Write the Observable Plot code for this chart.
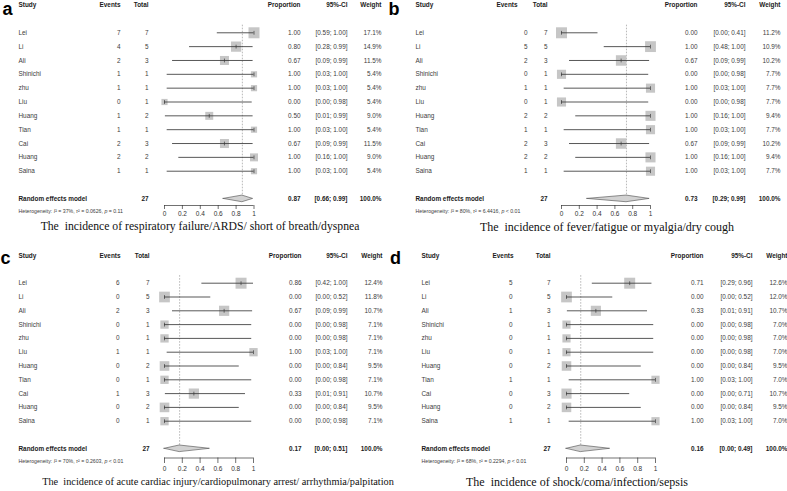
<!DOCTYPE html>
<html><head><meta charset="utf-8">
<script src="https://cdn.jsdelivr.net/npm/d3@7"></script>
<script src="https://cdn.jsdelivr.net/npm/@observablehq/plot@0.6"></script>
<style>
body{margin:0;background:#fff}
#wrap{position:relative;width:787px;height:491px;overflow:hidden;background:#fff}
.panel{position:absolute}
.panel svg{overflow:visible;display:block}
.cap{position:absolute;font-family:"Liberation Serif","Times New Roman",serif;white-space:pre;color:#111;transform:translateX(-50%)}
</style></head><body><div id="wrap"></div>
<script>
// ---------- data ----------
const studies = ["Lei","Li","Ali","Shinichi","zhu","Liu","Huang","Tian","Cai","Huang","Saina"];
const totals  = [7,5,3,1,1,1,2,1,3,2,1];

const eventsA = [7,4,2,1,1,0,1,1,2,2,1];
const propA   = [1.00,0.80,0.67,1.00,1.00,0.00,0.50,1.00,0.67,1.00,1.00];
const lowerA  = [0.59,0.28,0.09,0.03,0.03,0.00,0.01,0.03,0.09,0.16,0.03];
const upperA  = [1.00,0.99,0.99,1.00,1.00,0.98,0.99,1.00,0.99,1.00,1.00];
const weightA = [17.1,14.9,11.5,5.4,5.4,5.4,9.0,5.4,11.5,9.0,5.4];

const eventsB = [0,5,2,0,1,0,2,1,2,2,1];
const propB   = [0.00,1.00,0.67,0.00,1.00,0.00,1.00,1.00,0.67,1.00,1.00];
const lowerB  = [0.00,0.48,0.09,0.00,0.03,0.00,0.16,0.03,0.09,0.16,0.03];
const upperB  = [0.41,1.00,0.99,0.98,1.00,0.98,1.00,1.00,0.99,1.00,1.00];
const weightB = [11.2,10.9,10.2,7.7,7.7,7.7,9.4,7.7,10.2,9.4,7.7];

const eventsC = [6,0,2,0,0,1,0,0,1,0,0];
const propC   = [0.86,0.00,0.67,0.00,0.00,1.00,0.00,0.00,0.33,0.00,0.00];
const lowerC  = [0.42,0.00,0.09,0.00,0.00,0.03,0.00,0.00,0.01,0.00,0.00];
const upperC  = [1.00,0.52,0.99,0.98,0.98,1.00,0.84,0.98,0.91,0.84,0.98];
const weightC = [12.4,11.8,10.7,7.1,7.1,7.1,9.5,7.1,10.7,9.5,7.1];

const eventsD = [5,0,1,0,0,0,0,1,0,0,1];
const propD   = [0.71,0.00,0.33,0.00,0.00,0.00,0.00,1.00,0.00,0.00,1.00];
const lowerD  = [0.29,0.00,0.01,0.00,0.00,0.00,0.00,0.03,0.00,0.00,0.03];
const upperD  = [0.96,0.52,0.91,0.98,0.98,0.98,0.84,1.00,0.71,0.84,1.00];
const weightD = [12.6,12.0,10.7,7.0,7.0,7.0,9.5,7.0,10.7,9.5,7.0];

const summaryEst = [0.87,0.73,0.17,0.16];
const summaryLow = [0.66,0.29,0.00,0.00];
const summaryUp  = [0.99,0.99,0.51,0.49];
const summaryN   = [27,27,27,27];
const hetI2   = ["37%","80%","70%","68%"];
const hetTau2 = ["0.0626","6.4416","0.2603","0.2294"];
const hetP    = ["= 0.11","< 0.01","< 0.01","< 0.01"];

const headers = ["Study","Events","Total","Proportion","95%-CI","Weight"];
const reLabel = "Random effects model";
const axisTicks = [0,0.2,0.4,0.6,0.8,1];
const panelLetters = ["a","b","c","d"];
const captions = [
  "The  incidence of respiratory failure/ARDS/ short of breath/dyspnea",
  "The  incidence of fever/fatigue or myalgia/dry cough",
  "The  incidence of acute cardiac injury/cardiopulmonary arrest/ arrhythmia/palpitation",
  "The  incidence of shock/coma/infection/sepsis"
];

const eventsAll = [eventsA,eventsB,eventsC,eventsD];
const propAll   = [propA,propB,propC,propD];
const lowerAll  = [lowerA,lowerB,lowerC,lowerD];
const upperAll  = [upperA,upperB,upperC,upperD];
const weightAll = [weightA,weightB,weightC,weightD];

// ---------- layout (pixels, styles only) ----------
const layouts = [
 {left:0,   top:0,   width:393, height:222, letterX:7,   letterDy:3.8, study:18, evH:120, ev:120, tot:148, f0:164, f1:253.5, prop:300, ci:347, wt:381, yTop:4.6, yRE:198.4, axisY:205,   tickSize:4,   tickPad:2,   capX:200, capBase:231, capSize:11.7},
 {left:386, top:0,   width:401, height:222, letterX:7.5, letterDy:3.8, study:29, evH:131, ev:141, tot:161, f0:175, f1:264,   prop:311, ci:359, wt:394, yTop:4.6, yRE:198.4, axisY:205,   tickSize:4,   tickPad:2,   capX:221, capBase:231, capSize:12},
 {left:0,   top:250, width:393, height:232, letterX:5,   letterDy:2.5, study:18, evH:120, ev:119, tot:149, f0:164, f1:253,   prop:301, ci:347, wt:382, yTop:5.1, yRE:198.3, axisY:207.5, tickSize:5.5, tickPad:2.5, capX:218, capBase:236, capSize:10.3},
 {left:386, top:250, width:401, height:232, letterX:9,   letterDy:2.5, study:35, evH:127, ev:126, tot:164, f0:180, f1:269,   prop:317, ci:366, wt:401, yTop:5.1, yRE:198.3, axisY:207.5, tickSize:5.5, tickPad:2.5, capX:191, capBase:236, capSize:12}
];

const vline = {draw(ctx, size){ const r = Math.sqrt(size/Math.PI); ctx.moveTo(0,-r); ctx.lineTo(0,r); }};
const f2 = d3.format(".2f");
const f1 = d3.format(".1f");
const HEADER_ROW = -2;

function buildPanel(k){
  const L = layouts[k];
  const n = studies.length;
  const reRow = n + 1;
  const rows = studies.map((s,i)=>({
    i, study:s, events:eventsAll[k][i], total:totals[i],
    prop:propAll[k][i], lo:lowerAll[k][i], hi:upperAll[k][i], w:weightAll[k][i]
  }));
  const re = [{i:reRow, est:summaryEst[k], lo:summaryLow[k], hi:summaryUp[k], n:summaryN[k],
    het:`Heterogeneity: I² = ${hetI2[k]}, τ² = ${hetTau2[k]}, p ${hetP[k]}`}];
  const hh = 0.24;
  const diamond = [
    {x:summaryLow[k], y1:reRow, y2:reRow},
    {x:summaryEst[k], y1:reRow-hh, y2:reRow+hh},
    {x:summaryUp[k],  y1:reRow, y2:reRow}
  ];
  const axisRow = HEADER_ROW + (L.axisY - L.yTop) / (L.yRE - L.yTop) * (reRow - HEADER_ROW);
  const hdr = [{i:HEADER_ROW}];
  const cl = x => ({frameAnchor:"left",  dx:x - L.f0});
  const cr = x => ({frameAnchor:"right", dx:x - L.f1});
  const txt = {fontSize:6.4, fill:"#3c3c3c"};
  const bold = {fontSize:6.4, fill:"#1a1a1a", fontWeight:"bold"};

  const plot = Plot.plot({
    width:L.width, height:L.height,
    marginLeft:L.f0, marginRight:L.width - L.f1,
    marginTop:0, marginBottom:L.height - L.axisY,
    style:{fontFamily:"'Liberation Sans', Arial, sans-serif", background:"transparent", overflow:"visible"},
    x:{domain:[0,1]},
    y:{domain:[HEADER_ROW, reRow], range:[L.yTop, L.yRE], axis:null},
    r:{type:"sqrt", domain:[0, d3.max(weightAll[k])], range:[0, 6.2]},
    marks:[
      Plot.ruleX(re, {x:"est", y1:()=> -0.55, y2:"i", stroke:"#8a8a8a", strokeWidth:0.6, strokeDasharray:"1.6,1.4"}),
      Plot.dot(rows, {x:"prop", y:"i", r:"w", symbol:"square", fill:"#c6c6c6", stroke:null}),
      Plot.ruleY(rows, {y:"i", x1:"lo", x2:"hi", stroke:"#3a3a3a", strokeWidth:0.85}),
      Plot.dot(rows, {x:"prop", y:"i", r:1.9, symbol:vline, fill:"none", stroke:"#3a3a3a", strokeWidth:0.7}),
      Plot.areaY(diamond, {x:"x", y1:"y1", y2:"y2", fill:"#d2d2d2", stroke:"#4a4a4a", strokeWidth:0.6}),
      Plot.ruleY([axisRow], {x1:()=>axisTicks[0], x2:()=>axisTicks[axisTicks.length-1], stroke:"#333", strokeWidth:0.7}),
      Plot.axisX({ticks:axisTicks, tickSize:L.tickSize, tickPadding:L.tickPad, tickFormat:d=>String(d), fontSize:6.5, label:null, color:"#333", strokeWidth:0.7}),
      Plot.text(hdr, {y:"i", text:()=>panelLetters[k], ...cl(L.letterX), textAnchor:"middle", dy:L.letterDy, fontSize:18, fontWeight:"bold", fill:"#000"}),
      Plot.text(hdr, {y:"i", text:()=>headers[0], ...cl(L.study), textAnchor:"start", ...bold}),
      Plot.text(hdr, {y:"i", text:()=>headers[1], ...cl(L.evH),  textAnchor:"end", ...bold}),
      Plot.text(hdr, {y:"i", text:()=>headers[2], ...cl(L.tot),  textAnchor:"end", ...bold}),
      Plot.text(hdr, {y:"i", text:()=>headers[3], ...cr(L.prop), textAnchor:"end", ...bold}),
      Plot.text(hdr, {y:"i", text:()=>headers[4], ...cr(L.ci),   textAnchor:"end", ...bold}),
      Plot.text(hdr, {y:"i", text:()=>headers[5], ...cr(L.wt),   textAnchor:"end", ...bold}),
      Plot.text(rows, {y:"i", text:"study",  ...cl(L.study), textAnchor:"start", ...txt}),
      Plot.text(rows, {y:"i", text:"events", ...cl(L.ev),    textAnchor:"end", ...txt}),
      Plot.text(rows, {y:"i", text:"total",  ...cl(L.tot),   textAnchor:"end", ...txt}),
      Plot.text(rows, {y:"i", text:d=>f2(d.prop), ...cr(L.prop), textAnchor:"end", ...txt}),
      Plot.text(rows, {y:"i", text:d=>`[${f2(d.lo)}; ${f2(d.hi)}]`, ...cr(L.ci), textAnchor:"end", ...txt}),
      Plot.text(rows, {y:"i", text:d=>`${f1(d.w)}%`, ...cr(L.wt), textAnchor:"end", ...txt}),
      Plot.text(re, {y:"i", text:()=>reLabel, ...cl(L.study), textAnchor:"start", ...bold}),
      Plot.text(re, {y:"i", text:"n", ...cl(L.tot), textAnchor:"end", ...bold}),
      Plot.text(re, {y:"i", text:d=>f2(d.est), ...cr(L.prop), textAnchor:"end", ...bold}),
      Plot.text(re, {y:"i", text:d=>`[${f2(d.lo)}; ${f2(d.hi)}]`, ...cr(L.ci), textAnchor:"end", ...bold}),
      Plot.text(re, {y:"i", text:()=>"100.0%", ...cr(L.wt), textAnchor:"end", ...bold}),
      Plot.text(re, {y:"i", text:"het", ...cl(L.study), dy:12.4, textAnchor:"start", fontSize:5.2, fill:"#3c3c3c"})
    ]
  });

  plot.querySelectorAll("text").forEach(t=>{
    const s = t.textContent;
    const m = s.match(/^Heterogeneity: I² = (.*), τ² = (.*), p (.*)$/);
    if (!m) return;
    t.textContent = "";
    const parts = [["Heterogeneity: ",0],["I",1],["² = "+m[1]+", ",0],["τ",1],["² = "+m[2]+", ",0],["p",1],[" "+m[3],0]];
    for (const [str,it] of parts){
      const ts = document.createElementNS("http://www.w3.org/2000/svg","tspan");
      if (it) ts.setAttribute("font-style","italic");
      ts.textContent = str;
      t.appendChild(ts);
    }
  });

  const div = document.createElement("div");
  div.className = "panel";
  div.style.left = L.left + "px";
  div.style.top = L.top + "px";
  div.appendChild(plot);
  const cap = document.createElement("div");
  cap.className = "cap";
  cap.textContent = captions[k];
  cap.style.fontSize = L.capSize + "px";
  cap.style.lineHeight = L.capSize + "px";
  cap.style.left = L.capX + "px";
  cap.style.top = (L.capBase - 0.8375 * L.capSize) + "px";
  div.appendChild(cap);
  document.getElementById("wrap").appendChild(div);
}
[0,1,2,3].forEach(buildPanel);
</script>
</body></html>
